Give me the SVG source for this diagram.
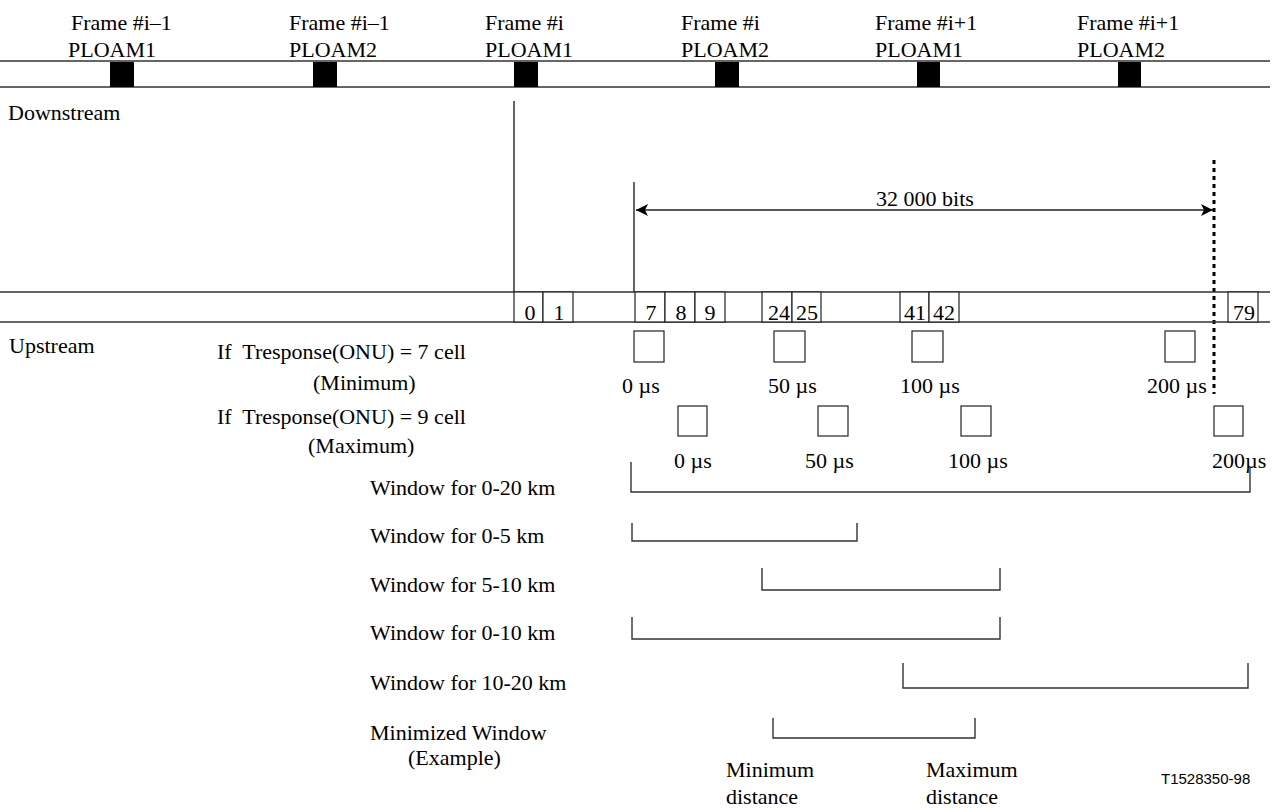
<svg xmlns="http://www.w3.org/2000/svg" width="1280" height="808" viewBox="0 0 1280 808">
<style>
text{font-family:"Liberation Serif","Times New Roman",serif;font-size:22px;fill:#000}
.c{text-anchor:middle}
.ln{stroke:#333;stroke-width:1.5;fill:none}
.bx{stroke:#222;stroke-width:1.2;fill:#fff}
.pl{fill:#000}
.br{stroke:#333;stroke-width:1.4;fill:none}
</style>
<defs>
<marker id="ah" viewBox="0 0 12 12" refX="12" refY="6" markerWidth="12" markerHeight="12" markerUnits="userSpaceOnUse" orient="auto-start-reverse">
<path d="M0,0 L12,6 L0,12 L3,6 z" fill="#000"/>
</marker>
</defs>
<g id="frame-labels">
<text x="71" y="30">Frame #i–1</text><text x="68" y="57">PLOAM1</text>
<text x="289" y="30">Frame #i–1</text><text x="289" y="57">PLOAM2</text>
<text x="485" y="30">Frame #i</text><text x="485" y="57">PLOAM1</text>
<text x="681" y="30">Frame #i</text><text x="681" y="57">PLOAM2</text>
<text x="875" y="30">Frame #i+1</text><text x="875" y="57">PLOAM1</text>
<text x="1077" y="30">Frame #i+1</text><text x="1077" y="57">PLOAM2</text>
</g>
<g id="downstream-band">
<line class="ln" x1="0" y1="61" x2="1270" y2="61"/>
<line class="ln" x1="0" y1="87" x2="1270" y2="87"/>
<rect class="pl" x="110" y="62" width="24" height="25"/>
<rect class="pl" x="313" y="62" width="24" height="25"/>
<rect class="pl" x="514" y="62" width="24" height="25"/>
<rect class="pl" x="715" y="62" width="24" height="25"/>
<rect class="pl" x="917" y="62" width="23" height="25"/>
<rect class="pl" x="1118" y="62" width="23" height="25"/>
<text x="8" y="120">Downstream</text>
</g>
<g id="connectors">
<line class="ln" x1="514" y1="101" x2="514" y2="292"/>
<line class="ln" x1="634" y1="182" x2="634" y2="292"/>
<line x1="636" y1="210" x2="1213" y2="210" stroke="#222" stroke-width="1.5" marker-start="url(#ah)" marker-end="url(#ah)"/>
<line x1="1214" y1="160" x2="1214" y2="394" stroke="#000" stroke-width="3" stroke-dasharray="4 4"/>
</g>
<text class="c" x="925" y="206">32 000 bits</text>
<g id="upstream-band">
<line class="ln" x1="0" y1="292" x2="1270" y2="292"/>
<line class="ln" x1="0" y1="322" x2="1270" y2="322"/>
<rect class="bx" x="514" y="292" width="29" height="30"/><text class="c" x="530" y="320">0</text>
<rect class="bx" x="543" y="292" width="30" height="30"/><text class="c" x="559" y="320">1</text>
<rect class="bx" x="635" y="292" width="30" height="30"/><text class="c" x="651" y="320">7</text>
<rect class="bx" x="665" y="292" width="30" height="30"/><text class="c" x="681" y="320">8</text>
<rect class="bx" x="695" y="292" width="30" height="30"/><text class="c" x="710" y="320">9</text>
<rect class="bx" x="762" y="292" width="30" height="30"/><text class="c" x="779" y="320">24</text>
<rect class="bx" x="792" y="292" width="29" height="30"/><text class="c" x="807" y="320">25</text>
<rect class="bx" x="900" y="292" width="29" height="30"/><text class="c" x="915" y="320">41</text>
<rect class="bx" x="929" y="292" width="30" height="30"/><text class="c" x="944" y="320">42</text>
<rect class="bx" x="1228" y="292" width="30" height="30"/><text class="c" x="1244" y="320">79</text>
<text x="9" y="353">Upstream</text>
</g>
<g id="min-response">
<text x="217" y="359" xml:space="preserve">If  Tresponse(ONU) = 7 cell</text>
<text x="313" y="390">(Minimum)</text>
<rect class="bx" x="634" y="331" width="30" height="31"/>
<rect class="bx" x="774" y="331" width="31" height="31"/>
<rect class="bx" x="912" y="331" width="31" height="31"/>
<rect class="bx" x="1165" y="331" width="30" height="31"/>
<text x="622" y="393">0 µs</text>
<text x="768" y="393">50 µs</text>
<text x="900" y="393">100 µs</text>
<text x="1147" y="393">200 µs</text>
</g>
<g id="max-response">
<text x="217" y="424" xml:space="preserve">If  Tresponse(ONU) = 9 cell</text>
<text x="308" y="453">(Maximum)</text>
<rect class="bx" x="678" y="406" width="29" height="30"/>
<rect class="bx" x="818" y="406" width="30" height="30"/>
<rect class="bx" x="961" y="406" width="30" height="30"/>
<rect class="bx" x="1214" y="406" width="29" height="30"/>
<text x="674" y="468">0 µs</text>
<text x="805" y="468">50 µs</text>
<text x="948" y="468">100 µs</text>
<text x="1212" y="468">200µs</text>
</g>
<g id="window-0-20">
<text x="370" y="495">Window for 0-20 km</text>
<polyline class="br" points="631,462 631,492 1250,492 1250,468"/>
</g>
<g id="window-0-5">
<text x="370" y="543">Window for 0-5 km</text>
<polyline class="br" points="632,523 632,541 857,541 857,523"/>
</g>
<g id="window-5-10">
<text x="370" y="592">Window for 5-10 km</text>
<polyline class="br" points="762,568 762,590 1000,590 1000,568"/>
</g>
<g id="window-0-10">
<text x="370" y="640">Window for 0-10 km</text>
<polyline class="br" points="632,617 632,639 1000,639 1000,617"/>
</g>
<g id="window-10-20">
<text x="370" y="690">Window for 10-20 km</text>
<polyline class="br" points="903,663 903,688 1248,688 1248,663"/>
</g>
<g id="window-min">
<text x="370" y="740">Minimized Window</text>
<text x="408" y="765">(Example)</text>
<polyline class="br" points="773,718 773,738 975,738 975,718"/>
<text x="726" y="777">Minimum</text>
<text x="726" y="804">distance</text>
<text x="926" y="777">Maximum</text>
<text x="926" y="804">distance</text>
</g>
<text x="1161" y="784" style="font-family:'Liberation Sans',Arial,sans-serif;font-size:15px">T1528350-98</text>
</svg>
